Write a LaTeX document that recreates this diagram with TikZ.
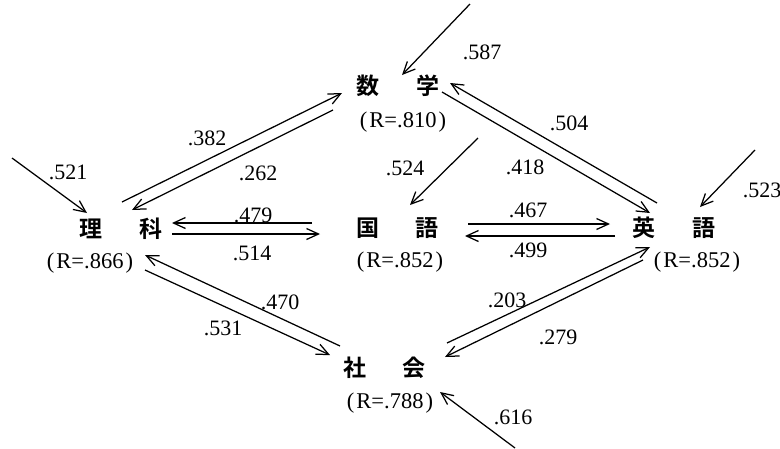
\documentclass[tikz,border=0pt]{standalone}
\usepackage{fontspec}
\setmainfont{Liberation Serif}
\newfontfamily\cjk{Noto Sans CJK JP}[BoldFont={Noto Sans CJK JP Bold}]
\usetikzlibrary{arrows.meta}
\begin{document}
\begin{tikzpicture}[x=1pt,y=-1pt,
  subj/.style={font=\cjk\bfseries\fontsize{23}{23}\selectfont, inner sep=0pt},
  rval/.style={font=\fontsize{22.5}{22.5}\selectfont, inner sep=0pt},
  coef/.style={font=\fontsize{22}{22}\selectfont, inner sep=0pt},
  pathline/.style={line width=1.25pt, -{Straight Barb[length=12pt,width=11pt,line width=1.25pt]}}]
\useasboundingbox (0,0) rectangle (780,448);
% subjects
\node[subj] (ma) at (398,86) {数\hspace{37pt}学};
\node[rval] (mar) at (403,122) {(\hspace{2pt}R=.810\hspace{2pt})};
\node[subj] (ri) at (121,229) {理\hspace{37pt}科};
\node[rval] (rir) at (90,263) {(\hspace{2pt}R=.866\hspace{2pt})};
\node[subj] (ko) at (397.5,228) {国\hspace{37pt}語};
\node[rval] (kor) at (400,262) {(\hspace{2pt}R=.852\hspace{2pt})};
\node[subj] (ei) at (674,228) {英\hspace{37pt}語};
\node[rval] (eir) at (697,262) {(\hspace{2pt}R=.852\hspace{2pt})};
\node[subj] (sh) at (384.5,368) {社\hspace{37pt}会};
\node[rval] (shr) at (390,403) {(\hspace{2pt}R=.788\hspace{2pt})};
% free ends of disturbance arrows
\coordinate (ema) at (470,4);
\coordinate (eri) at (12,158);
\coordinate (eko) at (478,138);
\coordinate (eei) at (755,150);
\coordinate (esh) at (515,448);
% disturbance arrows
\draw[pathline] (ema) -- ([shift={(4,-11)}]ma.center);
\draw[pathline] (eri) -- ([shift={(-34,-16)}]ri.center);
\draw[pathline] (eko) -- ([shift={(12.5,-23)}]ko.center);
\draw[pathline] (eei) -- ([shift={(26,-21)}]ei.center);
\draw[pathline] (esh) -- ([shift={(55.5,24)}]sh.center);
% ri <-> ma
\draw[pathline] ([shift={(1,-27)}]ri.center) -- ([shift={(-56,7)}]ma.center);
\draw[pathline] ([shift={(-65,24)}]ma.center) -- ([shift={(11,-19)}]ri.center);
% ma <-> ei
\draw[pathline] ([shift={(-17,-25)}]ei.center) -- ([shift={(52,-3)}]ma.center);
\draw[pathline] ([shift={(44,6)}]ma.center) -- ([shift={(-24,-15)}]ei.center);
% ri <-> ko
\draw[pathline] ([shift={(-85.5,-5)}]ko.center) -- ([shift={(51,-6)}]ri.center);
\draw[pathline] ([shift={(51,5)}]ri.center) -- ([shift={(-77.5,6)}]ko.center);
% ko <-> ei
\draw[pathline] ([shift={(70.5,-4)}]ko.center) -- ([shift={(-64,-4)}]ei.center);
\draw[pathline] ([shift={(-59,8)}]ei.center) -- ([shift={(67.5,8)}]ko.center);
% ri <-> sh
\draw[pathline] ([shift={(-44.5,-22)}]sh.center) -- ([shift={(24,26)}]ri.center);
\draw[pathline] ([shift={(24,41)}]ri.center) -- ([shift={(-54.5,-13)}]sh.center);
% ei <-> sh
\draw[pathline] ([shift={(62.5,-25)}]sh.center) -- ([shift={(-24,19)}]ei.center);
\draw[pathline] ([shift={(-31,32)}]ei.center) -- ([shift={(60.5,-11)}]sh.center);
% coefficients
\node[coef] (c587) at (482,52) {.587};
\node[coef] (c521) at (68,172) {.521};
\node[coef] (c523) at (762,190) {.523};
\node[coef] (c616) at (513,417) {.616};
\node[coef] (c524) at (405,168) {.524};
\node[coef] (c382) at (207,138) {.382};
\node[coef] (c262) at (258,173) {.262};
\node[coef] (c504) at (569,123) {.504};
\node[coef] (c418) at (525,167) {.418};
\node[coef] (c479) at (253,215) {.479};
\node[coef] (c514) at (252,253) {.514};
\node[coef] (c467) at (528,210) {.467};
\node[coef] (c499) at (528,250) {.499};
\node[coef] (c470) at (280,302) {.470};
\node[coef] (c531) at (223,328) {.531};
\node[coef] (c203) at (507,300) {.203};
\node[coef] (c279) at (558,337) {.279};
\end{tikzpicture}
\end{document}
